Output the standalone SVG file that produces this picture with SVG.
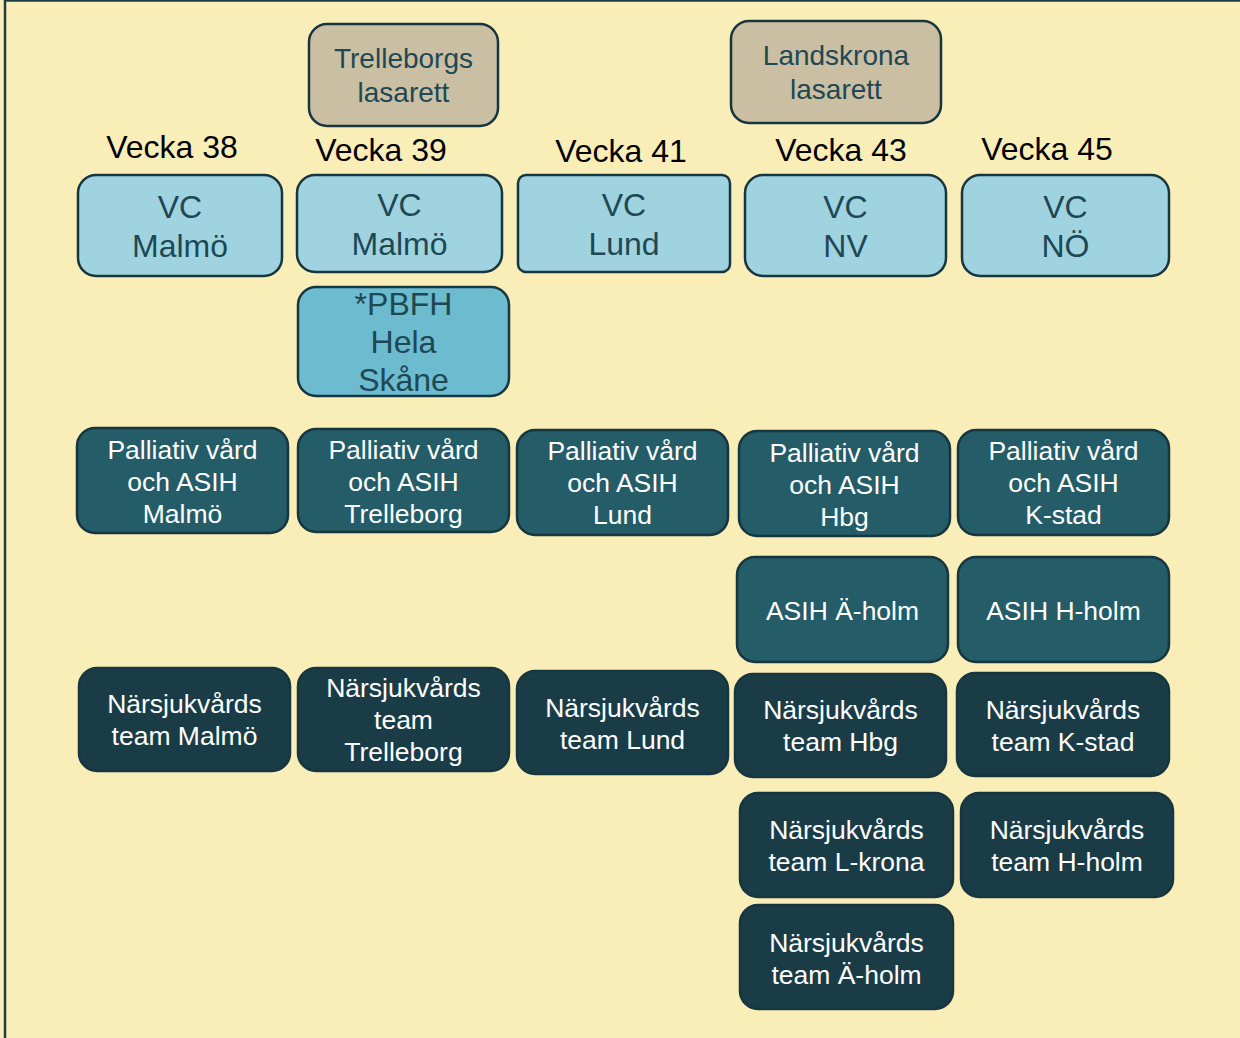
<svg xmlns="http://www.w3.org/2000/svg" width="1240" height="1038" viewBox="0 0 1240 1038">
<style>
.n rect{stroke:#17363f;stroke-width:2.5}
.lb rect{fill:#a0d3e0}
.pb rect{fill:#6dbbcf}
.tan rect{fill:#cbbfa3}
.pv rect{fill:#245c68}
.ns rect{fill:#1a3c47}
text{font-family:"Liberation Sans",Arial,sans-serif;text-anchor:middle}
.lb text,.pb text{fill:#1e4853;font-size:32px}
.tan text{fill:#1e4853;font-size:28px}
.pv text,.ns text{fill:#ffffff;font-size:26.5px}
.wk{fill:#000;font-size:32px}
</style>
<rect x="0" y="0" width="1240" height="1038" fill="#faeeb8"/>
<rect x="5" y="0.5" width="1250" height="1050" fill="none" stroke="#1e3e47" stroke-width="2.5"/>
<g id="labels">
<text class="wk" x="172" y="158">Vecka 38</text>
<text class="wk" x="381" y="161">Vecka 39</text>
<text class="wk" x="621" y="162">Vecka 41</text>
<text class="wk" x="841" y="161">Vecka 43</text>
<text class="wk" x="1047" y="160">Vecka 45</text>
</g>
<g id="n-trelleborgs" class="n tan"><rect x="309" y="24" width="189" height="102" rx="18"/><text x="403.5" y="68">Trelleborgs</text><text x="403.5" y="102">lasarett</text></g>
<g id="n-landskrona" class="n tan"><rect x="731" y="21" width="210" height="102" rx="18"/><text x="836" y="65">Landskrona</text><text x="836" y="99">lasarett</text></g>
<g id="n-vc-malmo1" class="n lb"><rect x="78" y="175" width="204" height="101" rx="18"/><text x="180" y="218">VC</text><text x="180" y="257">Malmö</text></g>
<g id="n-vc-malmo2" class="n lb"><rect x="297" y="175" width="205" height="97" rx="18"/><text x="399.5" y="216">VC</text><text x="399.5" y="255">Malmö</text></g>
<g id="n-vc-lund" class="n lb"><rect x="518" y="175" width="212" height="97" rx="8"/><text x="624" y="216">VC</text><text x="624" y="255">Lund</text></g>
<g id="n-vc-nv" class="n lb"><rect x="745" y="175" width="201" height="101" rx="18"/><text x="845.5" y="218">VC</text><text x="845.5" y="257">NV</text></g>
<g id="n-vc-no" class="n lb"><rect x="962" y="175" width="207" height="101" rx="18"/><text x="1065.5" y="218">VC</text><text x="1065.5" y="257">NÖ</text></g>
<g id="n-pbfh" class="n pb"><rect x="298" y="287" width="211" height="109" rx="18"/><text x="403.5" y="315">*PBFH</text><text x="403.5" y="353">Hela</text><text x="403.5" y="391">Skåne</text></g>
<g id="n-pv-malmo" class="n pv"><rect x="77" y="428" width="211" height="105" rx="18"/><text x="182.5" y="459">Palliativ vård</text><text x="182.5" y="491">och ASIH</text><text x="182.5" y="523">Malmö</text></g>
<g id="n-pv-trelleborg" class="n pv"><rect x="298" y="429" width="211" height="103" rx="18"/><text x="403.5" y="459">Palliativ vård</text><text x="403.5" y="491">och ASIH</text><text x="403.5" y="523">Trelleborg</text></g>
<g id="n-pv-lund" class="n pv"><rect x="517" y="430" width="211" height="105" rx="18"/><text x="622.5" y="460">Palliativ vård</text><text x="622.5" y="492">och ASIH</text><text x="622.5" y="524">Lund</text></g>
<g id="n-pv-hbg" class="n pv"><rect x="739" y="431" width="211" height="105" rx="18"/><text x="844.5" y="462">Palliativ vård</text><text x="844.5" y="494">och ASIH</text><text x="844.5" y="526">Hbg</text></g>
<g id="n-pv-kstad" class="n pv"><rect x="958" y="430" width="211" height="105" rx="18"/><text x="1063.5" y="460">Palliativ vård</text><text x="1063.5" y="492">och ASIH</text><text x="1063.5" y="524">K-stad</text></g>
<g id="n-asih-aholm" class="n pv"><rect x="737" y="557" width="211" height="105" rx="18"/><text x="842.5" y="620">ASIH Ä-holm</text></g>
<g id="n-asih-hholm" class="n pv"><rect x="958" y="557" width="211" height="105" rx="18"/><text x="1063.5" y="620">ASIH H-holm</text></g>
<g id="n-ns-malmo" class="n ns"><rect x="79" y="668" width="211" height="103" rx="18"/><text x="184.5" y="713">Närsjukvårds</text><text x="184.5" y="745">team Malmö</text></g>
<g id="n-ns-trelleborg" class="n ns"><rect x="298" y="668" width="211" height="103" rx="18"/><text x="403.5" y="697">Närsjukvårds</text><text x="403.5" y="729">team</text><text x="403.5" y="761">Trelleborg</text></g>
<g id="n-ns-lund" class="n ns"><rect x="517" y="671" width="211" height="103" rx="18"/><text x="622.5" y="717">Närsjukvårds</text><text x="622.5" y="749">team Lund</text></g>
<g id="n-ns-hbg" class="n ns"><rect x="735" y="674" width="211" height="103" rx="18"/><text x="840.5" y="719">Närsjukvårds</text><text x="840.5" y="751">team Hbg</text></g>
<g id="n-ns-kstad" class="n ns"><rect x="957" y="673" width="212" height="103" rx="18"/><text x="1063" y="719">Närsjukvårds</text><text x="1063" y="751">team K-stad</text></g>
<g id="n-ns-lkrona" class="n ns"><rect x="740" y="793" width="213" height="104" rx="18"/><text x="846.5" y="839">Närsjukvårds</text><text x="846.5" y="871">team L-krona</text></g>
<g id="n-ns-hholm" class="n ns"><rect x="961" y="793" width="212" height="104" rx="18"/><text x="1067" y="839">Närsjukvårds</text><text x="1067" y="871">team H-holm</text></g>
<g id="n-ns-aholm" class="n ns"><rect x="740" y="905" width="213" height="104" rx="18"/><text x="846.5" y="952">Närsjukvårds</text><text x="846.5" y="984">team Ä-holm</text></g>
<g id="connectors"/>
</svg>
